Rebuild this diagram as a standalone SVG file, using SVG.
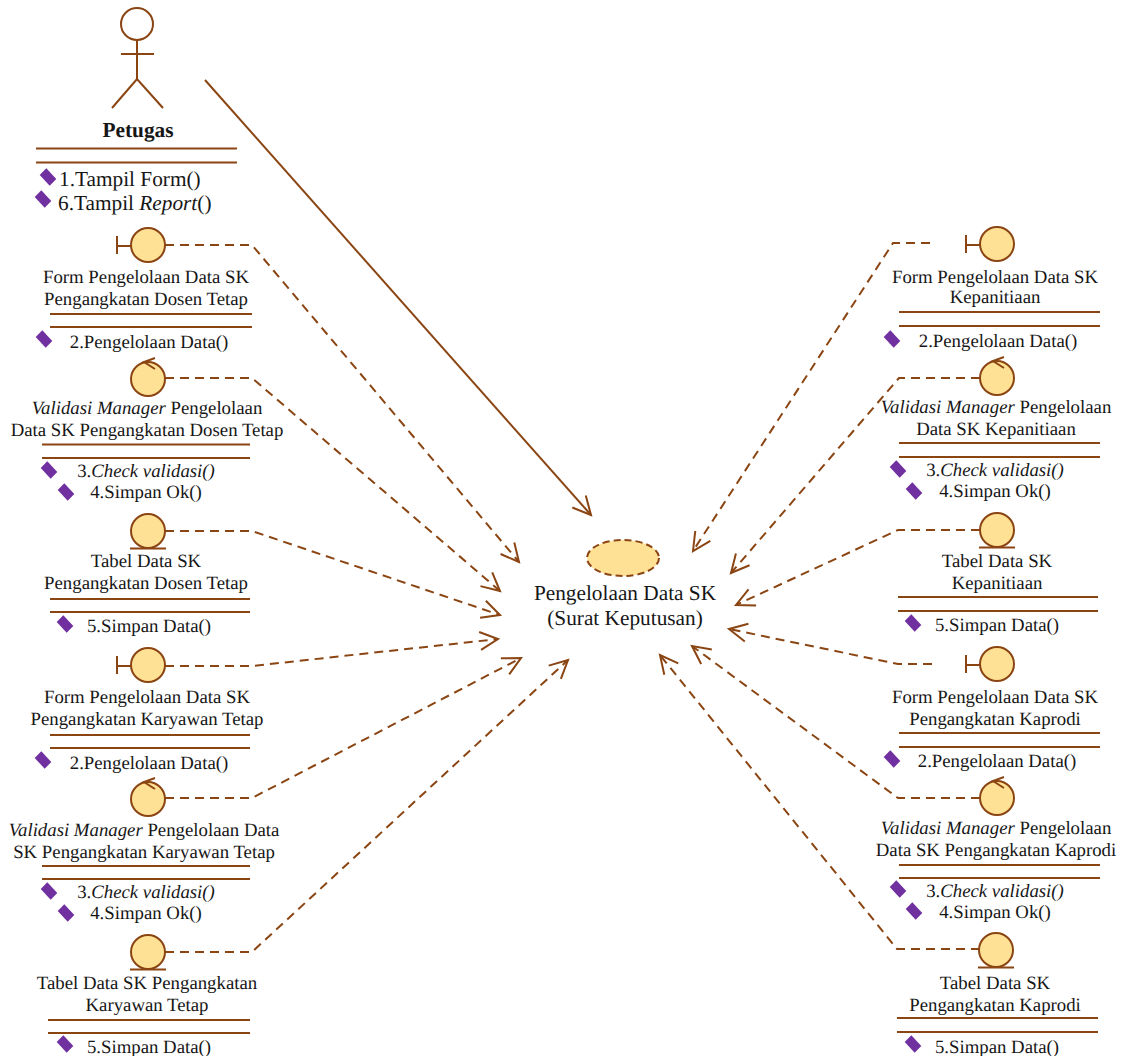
<svg xmlns="http://www.w3.org/2000/svg" width="1121" height="1056" viewBox="0 0 1121 1056">
<style>
text{font-family:"Liberation Serif","Times New Roman",serif;fill:#161616;text-anchor:middle;text-rendering:geometricPrecision}
.n{font-size:18.8px}
.b{font-size:21.3px}
.s{text-anchor:start}
.i{font-style:italic}
.bar{stroke:#8a4513;stroke-width:1.8;fill:none}
.sym{stroke:#8a4513;stroke-width:2;fill:#ffe196}
.ln{stroke:#8a4513;stroke-width:2;fill:none}
.dash{stroke:#8a4513;stroke-width:2;fill:none;stroke-dasharray:9 6;marker-end:url(#open)}
.solid{stroke:#8a4513;stroke-width:2;fill:none;marker-end:url(#open)}
.dia{fill:#7030a0}
</style>
<defs>
<marker id="open" markerUnits="userSpaceOnUse" markerWidth="30" markerHeight="30" refX="21" refY="12" orient="auto" viewBox="0 0 30 24">
<path d="M3,3 L21,12 L3,21" fill="none" stroke="#8a4513" stroke-width="2" stroke-dasharray="none"/>
</marker>
<polygon id="d" class="dia" points="-1.700,-8.700 8.300,2 1.700,8.700 -8.300,-2"/>
<g id="boundary"><path class="ln" d="M-31,-9V9M-31,1H-17"/><circle class="sym" r="17"/></g>
<g id="control"><circle class="sym" r="17"/><path class="ln" d="M7,-21L-4,-17L7,-10"/></g>
<g id="entity"><circle class="sym" r="17"/><path class="ln" d="M-18,17.500H18"/></g>
</defs>
<g id="connectors">
<path class="solid" d="M205,80L591,515"/>
<path class="dash" d="M165,245H252L519,562"/>
<path class="dash" d="M165,378H252L500,591"/>
<path class="dash" d="M165,531H252L500,615"/>
<path class="dash" d="M165,666H252L498,639"/>
<path class="dash" d="M165,798H252L521,658"/>
<path class="dash" d="M165,952H252L568,660"/>
<path class="dash" d="M930,243H893L693,551"/>
<path class="dash" d="M980,378H899L731,573"/>
<path class="dash" d="M980,530H898L736,605"/>
<path class="dash" d="M932,664H898L729,629"/>
<path class="dash" d="M980,798H898L692,646"/>
<path class="dash" d="M980,949H897L660,655"/>
</g>
<g id="petugas">
<circle cx="137" cy="24" r="16" fill="#fff" stroke="#8a4513" stroke-width="2"/>
<path class="ln" d="M137,40V79M121,54H154M112,108L137,79L163,108"/>
<text x="138" y="137" class="b" style="font-weight:bold">Petugas</text>
<path class="bar" d="M36,148.500H237M36,162.500H237"/>
<use href="#d" x="48" y="177"/><use href="#d" x="43" y="199"/>
<text x="59" y="186" class="b s">1.Tampil Form()</text>
<text x="58" y="210" class="b s">6.Tampil <tspan class="i">Report</tspan>()</text>
</g>
<g id="usecase">
<ellipse cx="623" cy="558" rx="36" ry="18" fill="#ffe196" stroke="#8a4513" stroke-width="2" stroke-dasharray="7 4"/>
<text x="625" y="600" class="b">Pengelolaan Data SK</text>
<text x="625" y="625" class="b">(Surat Keputusan)</text>
</g>
<g id="l1">
<use href="#boundary" x="148" y="245"/>
<text x="146" y="283" class="n">Form Pengelolaan Data SK</text>
<text x="146" y="305" class="n">Pengangkatan Dosen Tetap</text>
<path class="bar" d="M50,314H252M50,327H252"/>
<use href="#d" x="44" y="339"/>
<text x="149" y="348" class="n">2.Pengelolaan Data()</text>
</g>
<g id="l2">
<use href="#control" x="148" y="379"/>
<text x="147" y="414" class="n"><tspan class="i">Validasi Manager</tspan> Pengelolaan</text>
<text x="147" y="436" class="n">Data SK Pengangkatan Dosen Tetap</text>
<path class="bar" d="M42,444.500H250M42,458H250"/>
<use href="#d" x="49" y="470"/><use href="#d" x="66" y="492"/>
<text x="146" y="477" class="n">3.<tspan class="i">Check validasi()</tspan></text>
<text x="146" y="498" class="n">4.Simpan Ok()</text>
</g>
<g id="l3">
<use href="#entity" x="148" y="531"/>
<text x="146" y="567" class="n">Tabel Data SK</text>
<text x="146" y="589" class="n">Pengangkatan Dosen Tetap</text>
<path class="bar" d="M50,599H250M50,612H250"/>
<use href="#d" x="65" y="624"/>
<text x="149" y="632" class="n">5.Simpan Data()</text>
</g>
<g id="l4">
<use href="#boundary" x="148" y="665"/>
<text x="147" y="703" class="n">Form Pengelolaan Data SK</text>
<text x="147" y="725" class="n">Pengangkatan Karyawan Tetap</text>
<path class="bar" d="M50,735H250M50,748H250"/>
<use href="#d" x="43" y="760"/>
<text x="149" y="769" class="n">2.Pengelolaan Data()</text>
</g>
<g id="l5">
<use href="#control" x="148" y="799"/>
<text x="144" y="836" class="n"><tspan class="i">Validasi Manager</tspan> Pengelolaan Data</text>
<text x="144" y="858" class="n">SK Pengangkatan Karyawan Tetap</text>
<path class="bar" d="M42,866H250M42,879H250"/>
<use href="#d" x="49" y="891"/><use href="#d" x="66" y="913"/>
<text x="146" y="898" class="n">3.<tspan class="i">Check validasi()</tspan></text>
<text x="146" y="919" class="n">4.Simpan Ok()</text>
</g>
<g id="l6">
<use href="#entity" x="148" y="952"/>
<text x="147" y="989" class="n">Tabel Data SK Pengangkatan</text>
<text x="147" y="1011" class="n">Karyawan Tetap</text>
<path class="bar" d="M48,1020H250M48,1033H250"/>
<use href="#d" x="65" y="1044"/>
<text x="149" y="1053" class="n">5.Simpan Data()</text>
</g>
<g id="r1">
<use href="#boundary" x="997" y="244"/>
<text x="995" y="283" class="n">Form Pengelolaan Data SK</text>
<text x="995" y="303" class="n">Kepanitiaan</text>
<path class="bar" d="M899,312H1100M899,326H1100"/>
<use href="#d" x="892" y="339"/>
<text x="998" y="347" class="n">2.Pengelolaan Data()</text>
</g>
<g id="r2">
<use href="#control" x="997" y="378"/>
<text x="996" y="413" class="n"><tspan class="i">Validasi Manager</tspan> Pengelolaan</text>
<text x="996" y="435" class="n">Data SK Kepanitiaan</text>
<path class="bar" d="M899,443H1100M899,457H1100"/>
<use href="#d" x="898" y="469"/><use href="#d" x="914" y="491"/>
<text x="995" y="476" class="n">3.<tspan class="i">Check validasi()</tspan></text>
<text x="995" y="497" class="n">4.Simpan Ok()</text>
</g>
<g id="r3">
<use href="#entity" x="997" y="530"/>
<text x="997" y="567" class="n">Tabel Data SK</text>
<text x="997" y="589" class="n">Kepanitiaan</text>
<path class="bar" d="M898,597H1098M898,611H1098"/>
<use href="#d" x="913" y="623"/>
<text x="997" y="631" class="n">5.Simpan Data()</text>
</g>
<g id="r4">
<use href="#boundary" x="997" y="664"/>
<text x="995" y="703" class="n">Form Pengelolaan Data SK</text>
<text x="995" y="725" class="n">Pengangkatan Kaprodi</text>
<path class="bar" d="M899,733H1100M899,747H1100"/>
<use href="#d" x="892" y="759"/>
<text x="997" y="767" class="n">2.Pengelolaan Data()</text>
</g>
<g id="r5">
<use href="#control" x="997" y="798"/>
<text x="996" y="834" class="n"><tspan class="i">Validasi Manager</tspan> Pengelolaan</text>
<text x="996" y="856" class="n">Data SK Pengangkatan Kaprodi</text>
<path class="bar" d="M899,865H1100M899,878H1100"/>
<use href="#d" x="898" y="889"/><use href="#d" x="914" y="911"/>
<text x="995" y="897" class="n">3.<tspan class="i">Check validasi()</tspan></text>
<text x="995" y="918" class="n">4.Simpan Ok()</text>
</g>
<g id="r6">
<use href="#entity" x="996" y="950"/>
<text x="995" y="989" class="n">Tabel Data SK</text>
<text x="995" y="1011" class="n">Pengangkatan Kaprodi</text>
<path class="bar" d="M897,1018H1098M897,1032H1098"/>
<use href="#d" x="913" y="1044"/>
<text x="997" y="1053" class="n">5.Simpan Data()</text>
</g>
</svg>
